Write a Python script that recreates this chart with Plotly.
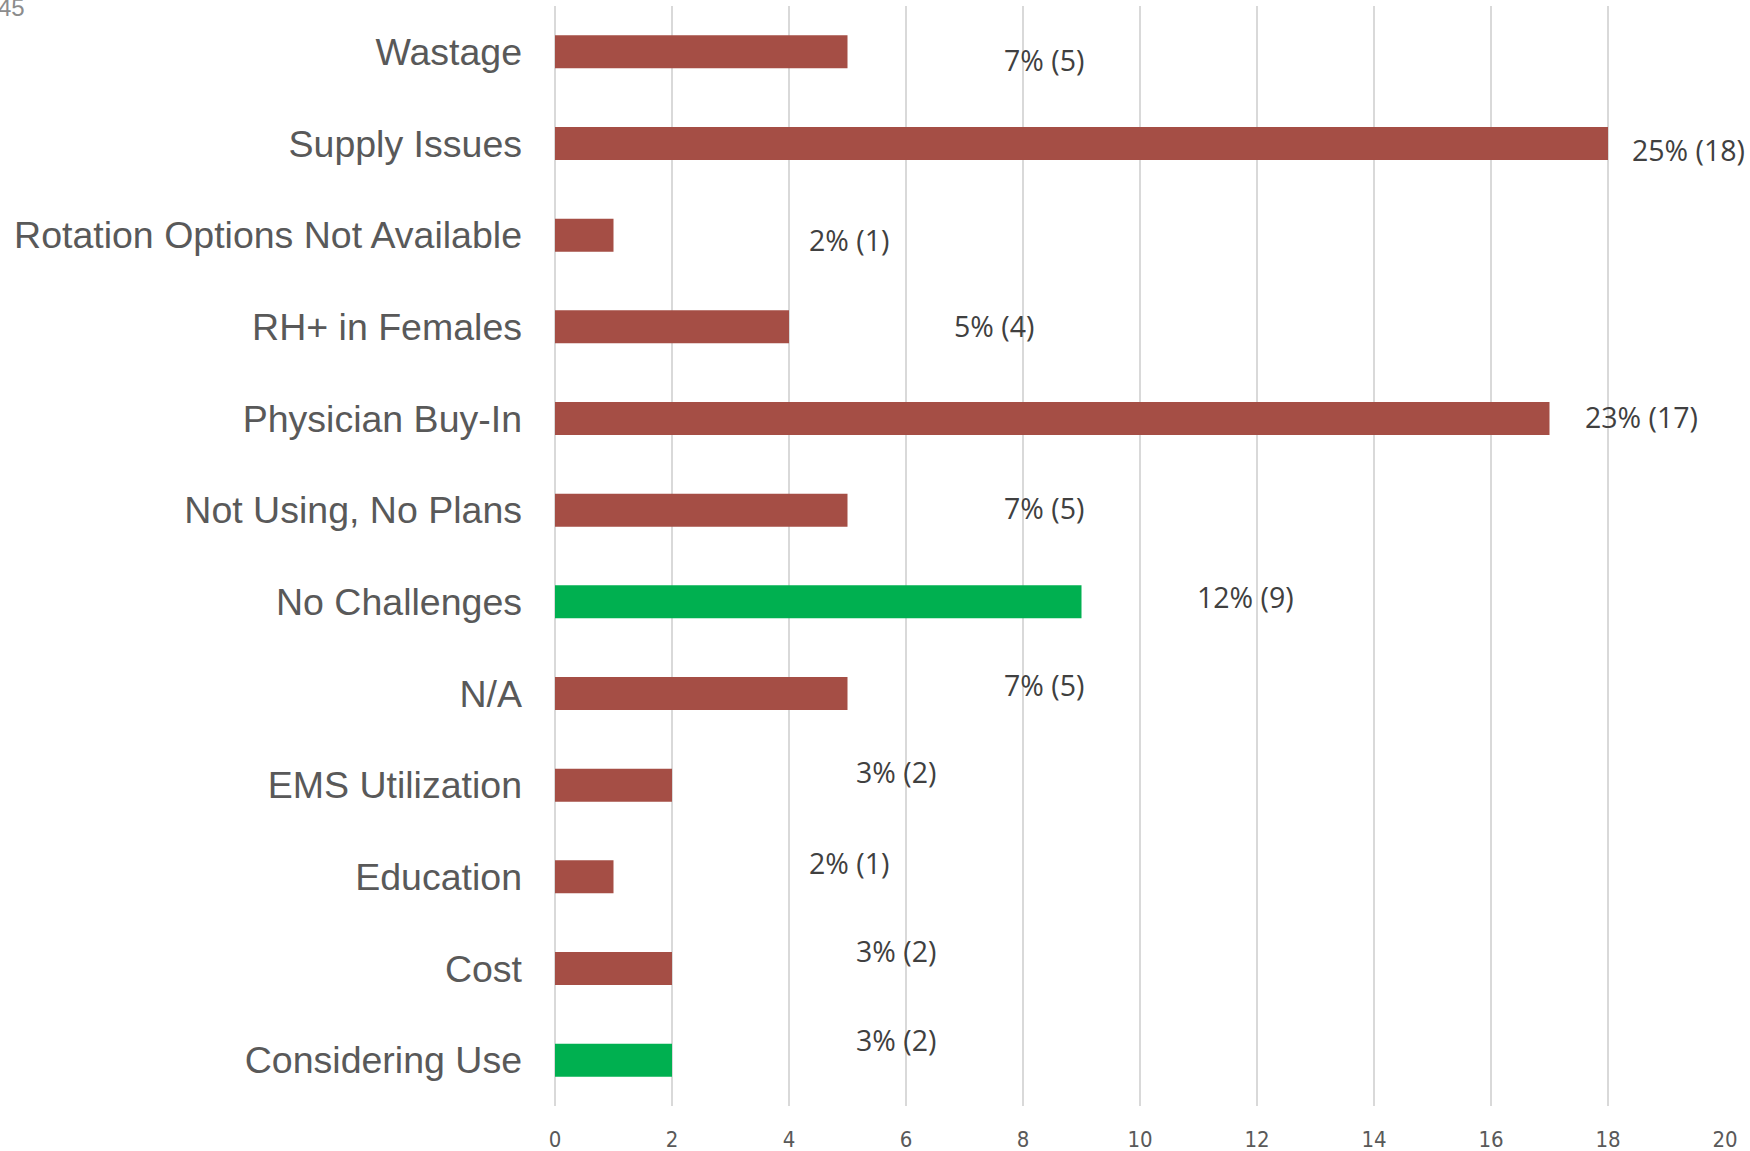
import plotly.graph_objects as go

# Survey responses: reported challenges, top to bottom
categories = [
    "Wastage",
    "Supply Issues",
    "Rotation Options Not Available",
    "RH+ in Females",
    "Physician Buy-In",
    "Not Using, No Plans",
    "No Challenges",
    "N/A",
    "EMS Utilization",
    "Education",
    "Cost",
    "Considering Use",
]
counts = [5, 18, 1, 4, 17, 5, 9, 5, 2, 1, 2, 2]
percents = [7, 25, 2, 5, 23, 7, 12, 7, 3, 2, 3, 3]
positive = [False, False, False, False, False, False, True, False, False, False, False, True]
x_ticks = list(range(0, 21, 2))

# label placement offsets (pixels) relative to each bar end / bar centre
label_dx = [157, 25, 196, 166, 36, 157, 116, 157, 185, 196, 185, 185]
label_dy = [-8.6, -6.2, -5, 1, 2, 2.4, 4.8, 8.3, 13, 14.3, 17.8, 20]

RED = "#A54E45"
GREEN = "#00B050"
bar_colors = [GREEN if p else RED for p in positive]

fig = go.Figure(
    go.Bar(
        x=counts,
        y=categories,
        orientation="h",
        width=0.36,
        marker=dict(color=bar_colors, line=dict(width=0)),
        hoverinfo="x+y",
    )
)

for cat, n, pct, dx, dy in zip(categories, counts, percents, label_dx, label_dy):
    fig.add_annotation(
        x=n,
        y=cat,
        xref="x",
        yref="y",
        text=f"{pct}% ({n})",
        showarrow=False,
        xanchor="left",
        yanchor="middle",
        xshift=dx - 3,
        yshift=dy,
        font=dict(family="Open Sans, Noto Sans, sans-serif", size=28.5, color="#404040"),
    )

# stray page number in the corner
fig.add_annotation(
    x=0,
    y=1,
    xref="paper",
    yref="paper",
    text="45",
    showarrow=False,
    xanchor="left",
    yanchor="middle",
    xshift=-559,
    yshift=-1,
    font=dict(family="Liberation Sans, Arial, sans-serif", size=24, color="#8C8C8C"),
)

fig.update_layout(
    width=1750,
    height=1151,
    margin=dict(l=555, r=25, t=6, b=45, autoexpand=False),
    paper_bgcolor="white",
    plot_bgcolor="white",
    showlegend=False,
    xaxis=dict(
        range=[0, 20],
        tickvals=x_ticks,
        ticktext=[str(v) for v in x_ticks],
        automargin=False,
        showgrid=True,
        gridcolor="#D9D9D9",
        gridwidth=1.5,
        zeroline=True,
        zerolinecolor="#D9D9D9",
        zerolinewidth=1.5,
        showline=False,
        ticks="",
        ticklabelstandoff=18,
        tickfont=dict(
            family="Liberation Sans Narrow, Arial Narrow, DejaVu Sans Condensed, sans-serif",
            size=22,
            color="#595959",
        ),
    ),
    yaxis=dict(
        categoryorder="array",
        categoryarray=categories,
        range=[11.5, -0.5],
        automargin=False,
        showgrid=False,
        zeroline=False,
        showline=False,
        ticks="",
        ticklabelstandoff=32,
        tickfont=dict(family="Liberation Sans, Arial, sans-serif", size=37.5, color="#595959"),
    ),
)

fig.write_html("out.html")
